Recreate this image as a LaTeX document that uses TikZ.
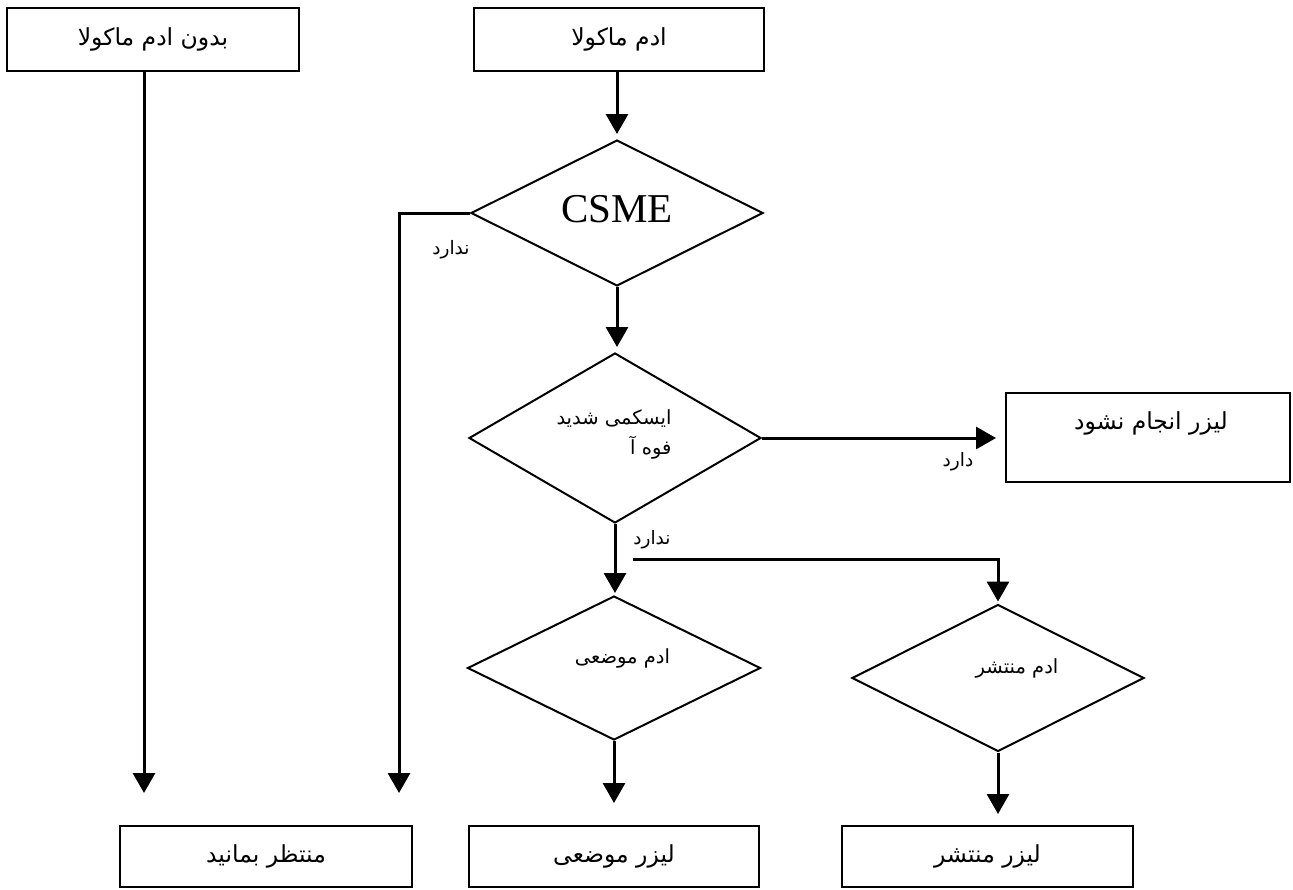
\documentclass[tikz,border=0pt]{standalone}
\usepackage{fontspec}
\usetikzlibrary{arrows.meta,shapes.geometric}
\TeXXeTstate=1
\newfontfamily\arfont[Script=Arabic]{DejaVu Sans}
\newfontfamily\tmsfont{Liberation Serif}
\newcommand{\artxt}[1]{\arfont\beginR #1\endR}
\begin{document}
\begin{tikzpicture}[x=1pt,y=-1pt,
  box/.style={draw,line width=2pt,inner sep=0pt,minimum width=#1},
  dia/.style={draw,diamond,line width=2pt,inner sep=0pt},
  conn/.style={line width=3pt,-{Triangle[width=22pt,length=20pt]}},
  bigtxt/.style={font=\fontsize{23.5}{28}\selectfont\arfont},
  midtxt/.style={font=\fontsize{19.5}{30}\selectfont\arfont},
  smalltxt/.style={font=\fontsize{18.5}{20}\selectfont\arfont}]
\useasboundingbox[fill=white] (0,0) rectangle (1293,889);
% boxes
\node[box=292pt,minimum height=63pt,bigtxt] (nomac) at (153,39.5) {\artxt{بدون ادم ماکولا}};
\node[box=290pt,minimum height=63pt,bigtxt] (mac) at (619,39.5) {\artxt{ادم ماکولا}};
\node[box=284pt,minimum height=89pt] (nolaser) at (1148,437.5) {};
\node[bigtxt] (nolasertxt) at (1151,423) {\artxt{لیزر انجام نشود}};
\node[box=292pt,minimum height=61pt,bigtxt] (wait) at (266,856.5) {\artxt{منتظر بمانید}};
\node[box=290pt,minimum height=61pt,bigtxt] (laserloc) at (614,856.5) {\artxt{لیزر موضعی}};
\node[box=291pt,minimum height=61pt,bigtxt] (laserdiff) at (987.5,856.5) {\artxt{لیزر منتشر}};
% diamonds
\node[dia,minimum width=292pt,minimum height=146pt] (csme) at (617,213) {};
\node[font=\fontsize{41}{44}\selectfont\tmsfont] (csmetxt) at (617,209) {CSME};
\node[dia,minimum width=292pt,minimum height=170pt] (isch) at (615,438) {};
\node[midtxt,align=right,anchor=east] (ischtxt) at (675,434) {\artxt{ایسکمی شدید}\\\artxt{فوه آ}};
\node[dia,minimum width=293pt,minimum height=144pt] (local) at (614,668) {};
\node[midtxt] (localtxt) at (622.5,658) {\artxt{ادم موضعی}};
\node[dia,minimum width=292pt,minimum height=147pt] (diffuse) at (998,678) {};
\node[midtxt] (diffusetxt) at (1017,668) {\artxt{ادم منتشر}};
% labels
\node[smalltxt] (no1) at (451,250) {\artxt{ندارد}};
\node[smalltxt] (yes1) at (958,462) {\artxt{دارد}};
\node[smalltxt] (no2) at (652,540) {\artxt{ندارد}};
% coordinates
\coordinate (c1) at (399,213);
\coordinate (c2) at (633,559);
\coordinate (c3) at (144,71);
% connectors
\draw[conn,shorten >=32pt] (c3) -- (c3 |- wait.north);
\draw[conn,shorten >=32pt] (csme.west) -- (c1) -- (c1 |- wait.north);
\draw[conn,shorten >=5pt] (mac.south -| csme.north) -- (csme.north);
\draw[conn,shorten >=5pt] (csme.south) -- (csme.south |- isch.north);
\draw[conn,shorten >=9pt] (isch.east) -- (isch.east -| nolaser.west);
\draw[conn,shorten >=2pt] (isch.south) -- (isch.south |- local.north);
\draw[conn,shorten >=2pt] (c2) -| (diffuse.north);
\draw[conn,shorten >=22pt] (local.south) -- (local.south |- laserloc.north);
\draw[conn,shorten >=11pt] (diffuse.south) -- (diffuse.south |- laserdiff.north);
\end{tikzpicture}
\end{document}
